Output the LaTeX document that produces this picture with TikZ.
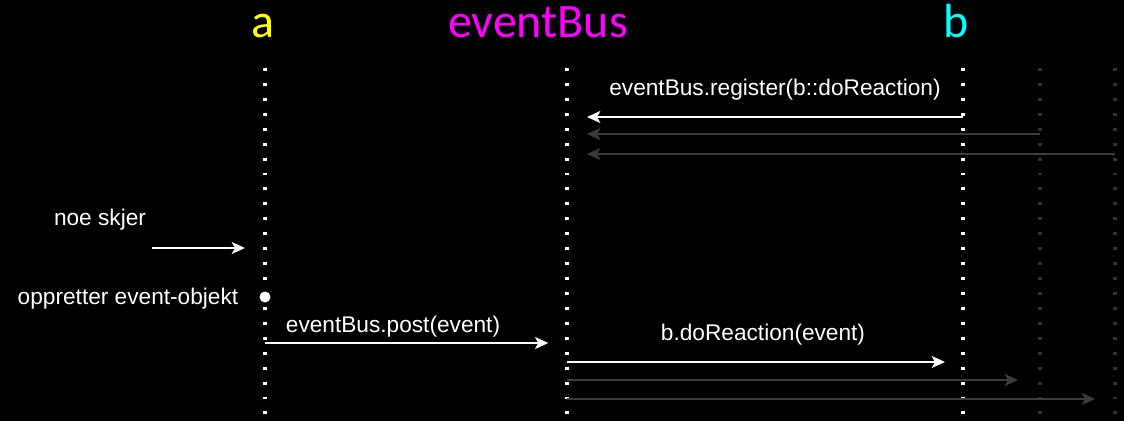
\documentclass[tikz,border=0pt]{standalone}
\usepackage{fontspec}
\setmainfont{Liberation Sans}
\newfontfamily\headfont{Carlito}
\usetikzlibrary{arrows.meta}

\definecolor{dimline}{HTML}{3C3C3C}
\definecolor{dimdot}{HTML}{333333}
\definecolor{acol}{HTML}{FFFF00}
\definecolor{buscol}{HTML}{FF00FF}
\definecolor{bcol}{HTML}{00FFFF}

\begin{document}
\begin{tikzpicture}[x=0.75pt,y=-0.75pt,
  head/.style={inner sep=0pt,anchor=base,font=\headfont\fontsize{36}{40}\selectfont},
  lifeline/.style={white,line width=2.6pt,dash pattern=on 2.2pt off 9pt},
  ghostline/.style={lifeline,dimdot},
  msg/.style={white,line width=1.3pt,-{Stealth[length=10pt,width=9pt,inset=2.5pt]}},
  ghostmsg/.style={msg,dimline},
  lbl/.style={text=white,inner sep=0pt,font=\fontsize{17}{20}\selectfont}]

\fill[black] (0,0) rectangle (1124,421);
\useasboundingbox (0,0) rectangle (1124,421);

% participants
\node[head,text=acol] (a) at (263,37) {a};
\node[head,text=buscol] (bus) at (538,37) {eventBus};
\node[head,text=bcol] (b) at (956,37) {b};
\coordinate (c) at (1040,37);
\coordinate (d) at (1115,37);

% lifelines
\coordinate (ax) at (265,0);
\coordinate (bx) at (567,0);
\coordinate (bb) at (963,0);
\draw[lifeline] (ax |- 0,68) -- (ax |- 0,421);
\draw[lifeline] (bx |- 0,68) -- (bx |- 0,421);
\draw[lifeline] (bb |- 0,68) -- (bb |- 0,421);
\draw[ghostline] (c |- 0,68) -- (c |- 0,421);
\draw[ghostline] (d |- 0,68) -- (d |- 0,421);

% registration
\node[lbl] (reg) at (775,90) {eventBus.register(b::doReaction)};
\draw[msg,shorten >=15pt] (bb |- 0,117) -- (bx |- 0,117);
\draw[ghostmsg,shorten >=15pt] (c |- 0,134) -- (bx |- 0,134);
\draw[ghostmsg,shorten >=15pt] (d |- 0,154) -- (bx |- 0,154);

% something happens at a
\node[lbl] (trig) at (100,220) {noe skjer};
\coordinate (trigfrom) at (152,248);
\draw[msg,shorten >=15pt] (trigfrom) -- (ax |- trigfrom);
\node[lbl] (make) at (128,299) {oppretter event-objekt};
\fill[white] (ax |- 0,297) circle (5.5);

% posting and delivery
\node[lbl] (post) at (393,327) {eventBus.post(event)};
\draw[msg,shorten >=14pt] (ax |- 0,343) -- (bx |- 0,343);
\node[lbl] (react) at (763,335) {b.doReaction(event)};
\draw[msg,shorten >=13.5pt] (bx |- 0,362) -- (bb |- 0,362);
\draw[ghostmsg,shorten >=16.5pt] (bx |- 0,380) -- (c |- 0,380);
\draw[ghostmsg,shorten >=15pt] (bx |- 0,399) -- (d |- 0,399);
\end{tikzpicture}
\end{document}
